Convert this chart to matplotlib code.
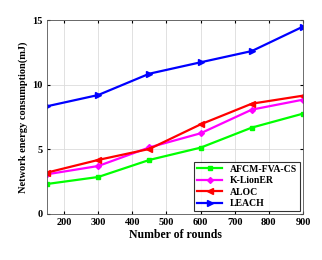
import matplotlib
matplotlib.use("Agg")
import matplotlib.pyplot as plt

plt.rcParams['font.family'] = ['Liberation Serif', 'DejaVu Serif']
plt.rcParams['font.weight'] = 'bold'

rounds = [150, 300, 450, 600, 750, 900]
afcm = [2.32, 2.86, 4.18, 5.13, 6.68, 7.76]
klioner = [3.07, 3.71, 5.15, 6.24, 8.07, 8.84]
aloc = [3.2, 4.18, 5.03, 6.93, 8.53, 9.15]
leach = [8.33, 9.2, 10.85, 11.73, 12.6, 14.49]

fig = plt.figure(figsize=(3.22, 2.6), dpi=100)
ax = fig.add_axes([0.146, 0.177, 0.795, 0.746])

ax.plot(rounds, afcm, color='#00ff00', marker='s', ms=3, lw=1.6, label='AFCM-FVA-CS')
ax.plot(rounds, klioner, color='#ff00ff', marker='D', ms=3, lw=1.6, label='K-LionER')
ax.plot(rounds, aloc, color='#ff0000', marker='<', ms=4, lw=1.6, label='ALOC')
ax.plot(rounds, leach, color='#0000ff', marker='>', ms=4, lw=1.6, label='LEACH')

ax.set_xlim(150, 900)
ax.set_ylim(0, 15)
ax.set_xticks([200, 300, 400, 500, 600, 700, 800, 900])
ax.set_yticks([0, 5, 10, 15])
ax.grid(True, color='#dcdcdc', lw=0.6)
ax.tick_params(labelsize=7.5, direction='in', length=2, top=True, right=True, pad=3)
for s in ax.spines.values():
    s.set_color('#555555')
    s.set_linewidth(0.6)

ax.set_xlabel('Number of rounds', fontsize=8.5, fontweight='bold', labelpad=1)
ax.set_ylabel('Network energy consumption(mJ)', fontsize=7.5, fontweight='bold', labelpad=3)

leg = ax.legend(loc='lower right', fontsize=7, frameon=True, fancybox=False,
                edgecolor='black', handlelength=2.6, borderpad=0.3, labelspacing=0.25,
                borderaxespad=0.3)
leg.get_frame().set_linewidth(0.8)
for t in leg.get_texts():
    t.set_fontweight('bold')

fig.savefig('out.png', dpi=100)
